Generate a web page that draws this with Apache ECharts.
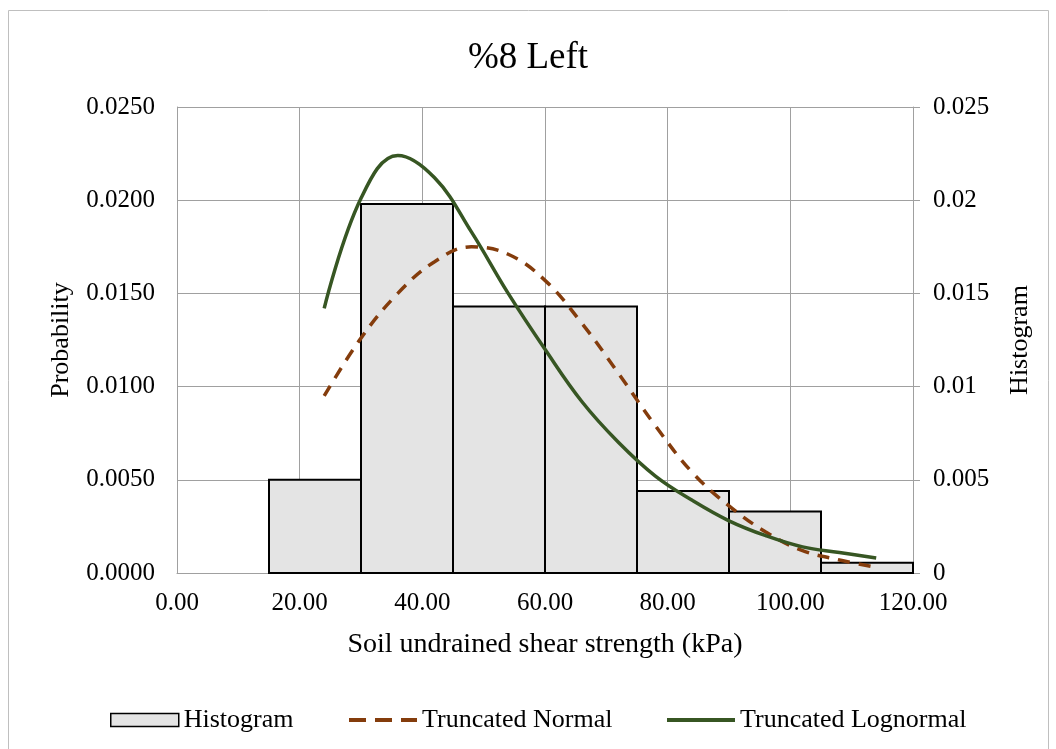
<!DOCTYPE html>
<html><head><meta charset="utf-8">
<script src="https://cdn.jsdelivr.net/npm/echarts@6/dist/echarts.min.js"></script>
<style>html,body{margin:0;padding:0;background:#fff}#c{width:1056px;height:749px}</style>
</head><body><div id="c"></div>
<script>
const binStarts = [15, 30, 45, 60, 75, 90, 105];
const binEnds   = [30, 45, 60, 75, 90, 105, 120];
const histValues = [0.0050, 0.0198, 0.0143, 0.0143, 0.0044, 0.0033, 0.00055];
const curveX = [24, 30, 36, 42, 48, 54, 60, 66, 72, 78, 84, 90, 96, 102, 108, 114];
const normalValues = [0.0095, 0.0126, 0.0150, 0.0167, 0.0175, 0.0171, 0.0157, 0.0134, 0.0107, 0.0079, 0.0054, 0.0036, 0.0022, 0.0012, 0.0007, 0.0003];
const lognormalValues = [0.0142, 0.0201, 0.0224, 0.0212, 0.0183, 0.0150, 0.0120, 0.0092, 0.0070, 0.0052, 0.0039, 0.0028, 0.0020, 0.0014, 0.0011, 0.0008];

const font = 'Liberation Serif';
const histData = binStarts.map((s, i) => [s, binEnds[i], histValues[i]]);
const legendText = { fontFamily: font, fontSize: 26, color: '#000' };
const dashIcon = 'path://M0,0h17v4h-17z M26,0h17v4h-17z M52,0h16v4h-16z';
const solidIcon = 'path://M0,0h68v4h-68z';
const chart = echarts.init(document.getElementById('c'));
chart.setOption({
  backgroundColor: '#fff',
  animation: false,
  textStyle: { fontFamily: font, color: '#000' },
  title: { text: '%8 Left', left: 'center', top: 35, textStyle: { fontFamily: font, fontSize: 37, fontWeight: 'normal', color: '#000' } },
  graphic: [{ type: 'rect', shape: { x: 8.5, y: 10.5, width: 1040, height: 760 }, style: { fill: 'none', stroke: '#bfbfbf', lineWidth: 1 }, silent: true }],
  grid: { left: 177, right: 143, top: 107, bottom: 176 },
  legend: [{
    left: 105, top: 702, itemWidth: 68, itemHeight: 13, symbolKeepAspect: false,
    textStyle: legendText,
    data: [{ name: 'Histogram', icon: 'rect', itemStyle: { color: '#e4e4e4', borderColor: '#000', borderWidth: 1.5 } }]
  }, {
    left: 344, top: 702, itemWidth: 68, itemHeight: 4, symbolKeepAspect: false,
    textStyle: legendText,
    data: [{ name: 'Truncated Normal', icon: dashIcon }]
  }, {
    left: 662, top: 702, itemWidth: 68, itemHeight: 4, symbolKeepAspect: false,
    textStyle: legendText,
    data: [{ name: 'Truncated Lognormal', icon: solidIcon }]
  }],
  xAxis: {
    type: 'value', min: 0, max: 120, interval: 20,
    name: 'Soil undrained shear strength (kPa)', nameLocation: 'middle', nameGap: 58,
    nameTextStyle: { fontFamily: font, fontSize: 28, color: '#000' },
    axisLine: { lineStyle: { color: '#a0a0a0' } }, axisTick: { show: false },
    axisLabel: { fontFamily: font, fontSize: 25, color: '#000', margin: 18, formatter: v => v.toFixed(2) },
    splitLine: { show: true, lineStyle: { color: '#a0a0a0', width: 1 } }
  },
  yAxis: [{
    type: 'value', min: 0, max: 0.025, interval: 0.005, position: 'left',
    name: 'Probability', nameLocation: 'middle', nameGap: 103,
    nameTextStyle: { fontFamily: font, fontSize: 26, color: '#000' },
    axisLine: { show: true, lineStyle: { color: '#a0a0a0' } }, axisTick: { show: false },
    axisLabel: { fontFamily: font, fontSize: 25, color: '#000', margin: 22, formatter: v => v.toFixed(4) },
    splitLine: { show: true, lineStyle: { color: '#a0a0a0', width: 1 } }
  }, {
    type: 'value', min: 0, max: 0.025, interval: 0.005, position: 'right',
    name: 'Histogram', nameLocation: 'middle', nameGap: 94,
    nameTextStyle: { fontFamily: font, fontSize: 26, color: '#000' },
    axisLine: { show: true, lineStyle: { color: '#a0a0a0' } },
    axisTick: { show: true, length: 7, lineStyle: { color: '#a0a0a0' } },
    axisLabel: { fontFamily: font, fontSize: 25, color: '#000', margin: 20, formatter: v => String(+v.toFixed(3)) },
    splitLine: { show: false }
  }],
  series: [{
    name: 'Histogram', type: 'custom', yAxisIndex: 1,
    itemStyle: { color: '#e4e4e4', borderColor: '#000' },
    encode: { x: [0, 1], y: 2 },
    data: histData,
    renderItem: (params, api) => {
      const p0 = api.coord([api.value(0), api.value(2)]);
      const p1 = api.coord([api.value(1), 0]);
      return { type: 'rect', shape: { x: p0[0], y: p0[1], width: p1[0] - p0[0], height: p1[1] - p0[1] },
        style: { fill: '#e4e4e4', stroke: '#000', lineWidth: 2 } };
    },
    z: 1
  }, {
    name: 'Truncated Normal', type: 'line', smooth: 0.4, symbol: 'none',
    data: curveX.map((x, i) => [x, normalValues[i]]),
    lineStyle: { color: '#843C0C', width: 3.5, type: [12, 9] }, itemStyle: { color: '#843C0C' }, z: 3
  }, {
    name: 'Truncated Lognormal', type: 'line', smooth: 0.4, symbol: 'none',
    data: curveX.map((x, i) => [x, lognormalValues[i]]),
    lineStyle: { color: '#375623', width: 3.5 }, itemStyle: { color: '#375623' }, z: 4
  }]
});
</script></body></html>
